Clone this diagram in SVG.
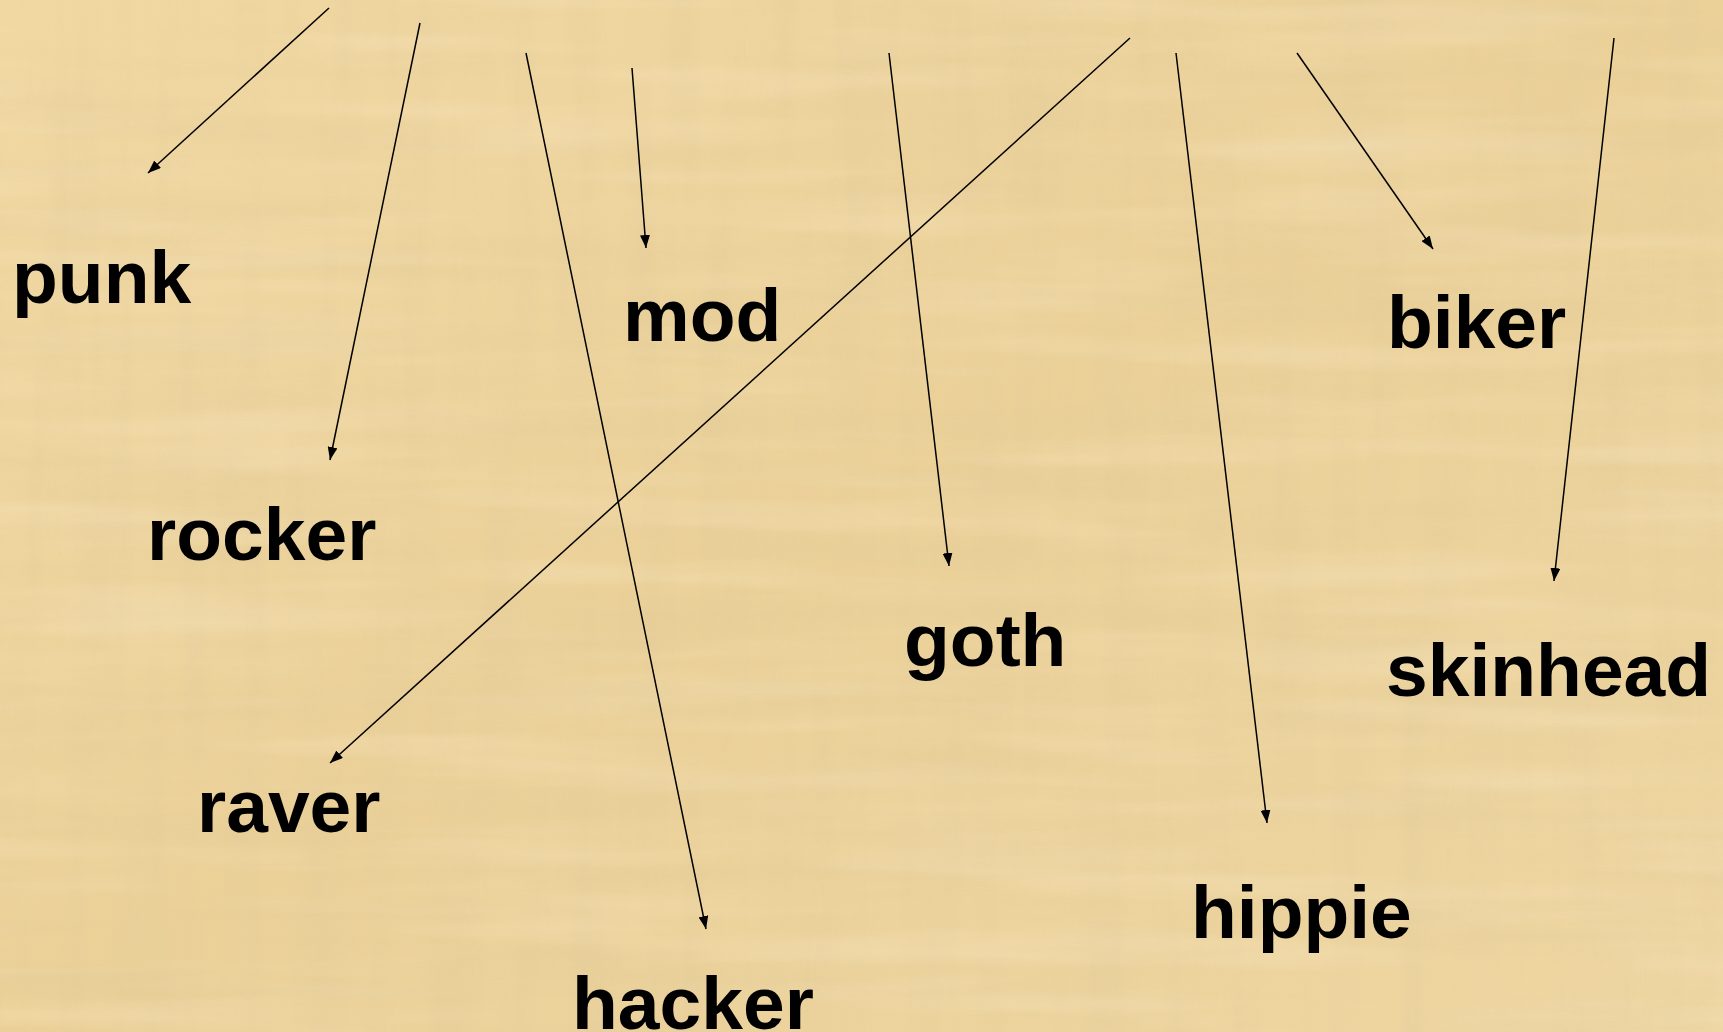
<svg xmlns="http://www.w3.org/2000/svg" width="1723" height="1032" viewBox="0 0 1723 1032">
  <defs>
    <style>
      .lbl { font-family: "Liberation Sans", Arial, sans-serif; font-weight: bold; font-size: 75px; fill: #000; }
      .conn { stroke: #000; stroke-width: 1.5; fill: none; marker-end: url(#ah); }
    </style>
    <marker id="ah" markerUnits="userSpaceOnUse" markerWidth="14" markerHeight="10" refX="13" refY="5" orient="auto">
      <path d="M0,0 L13,5 L0,10 Z" fill="#000"/>
    </marker>
    <linearGradient id="bg" x1="0" y1="0" x2="1" y2="1">
      <stop offset="0" stop-color="#F1D8A3"/>
      <stop offset="0.5" stop-color="#EBD098"/>
      <stop offset="1" stop-color="#EED6A2"/>
    </linearGradient>
    <filter id="tex1" x="0" y="0" width="100%" height="100%">
      <feTurbulence type="fractalNoise" baseFrequency="0.03 0.0025" numOctaves="3" seed="4" result="n"/>
      <feColorMatrix in="n" type="matrix" values="0 0 0 0 0.72  0 0 0 0 0.58  0 0 0 0 0.33  0 0 0 1.1 -0.45"/>
    </filter>
    <filter id="tex2" x="0" y="0" width="100%" height="100%">
      <feTurbulence type="fractalNoise" baseFrequency="0.0025 0.03" numOctaves="3" seed="9" result="n"/>
      <feColorMatrix in="n" type="matrix" values="0 0 0 0 0.98  0 0 0 0 0.90  0 0 0 0 0.70  0 0 0 1.0 -0.45"/>
    </filter>
    <filter id="tex3" x="0" y="0" width="100%" height="100%">
      <feTurbulence type="fractalNoise" baseFrequency="0.0025 0.025" numOctaves="3" seed="21" result="n"/>
      <feColorMatrix in="n" type="matrix" values="0 0 0 0 0.70  0 0 0 0 0.57  0 0 0 0 0.32  0 0 0 1.1 -0.5"/>
    </filter>
  </defs>
  <g id="background">
    <rect width="1723" height="1032" fill="url(#bg)"/>
    <rect width="1723" height="1032" filter="url(#tex1)" opacity="0.45"/>
    <rect width="1723" height="1032" filter="url(#tex3)" opacity="0.45"/>
    <rect width="1723" height="1032" filter="url(#tex2)" opacity="0.5"/>
  </g>
  <g id="connectors">
    <line class="conn" x1="329" y1="8" x2="148" y2="173"/>
    <line class="conn" x1="420" y1="23" x2="330" y2="460"/>
    <line class="conn" x1="526" y1="53" x2="706" y2="929"/>
    <line class="conn" x1="632" y1="68" x2="646" y2="248"/>
    <line class="conn" x1="889" y1="53" x2="949" y2="566"/>
    <line class="conn" x1="1130" y1="38" x2="330" y2="763"/>
    <line class="conn" x1="1176" y1="53" x2="1267" y2="823"/>
    <line class="conn" x1="1297" y1="53" x2="1433" y2="249"/>
    <line class="conn" x1="1614" y1="38" x2="1554" y2="581"/>
  </g>
  <g id="node-punk"><text class="lbl" x="12" y="303">punk</text></g>
  <g id="node-mod"><text class="lbl" x="623" y="341">mod</text></g>
  <g id="node-rocker"><text class="lbl" x="147" y="560">rocker</text></g>
  <g id="node-biker"><text class="lbl" x="1387" y="348">biker</text></g>
  <g id="node-goth"><text class="lbl" x="904" y="666">goth</text></g>
  <g id="node-skinhead"><text class="lbl" x="1386" y="696">skinhead</text></g>
  <g id="node-raver"><text class="lbl" x="197" y="832">raver</text></g>
  <g id="node-hippie"><text class="lbl" x="1191" y="938">hippie</text></g>
  <g id="node-hacker"><text class="lbl" x="572" y="1029">hacker</text></g>
</svg>
